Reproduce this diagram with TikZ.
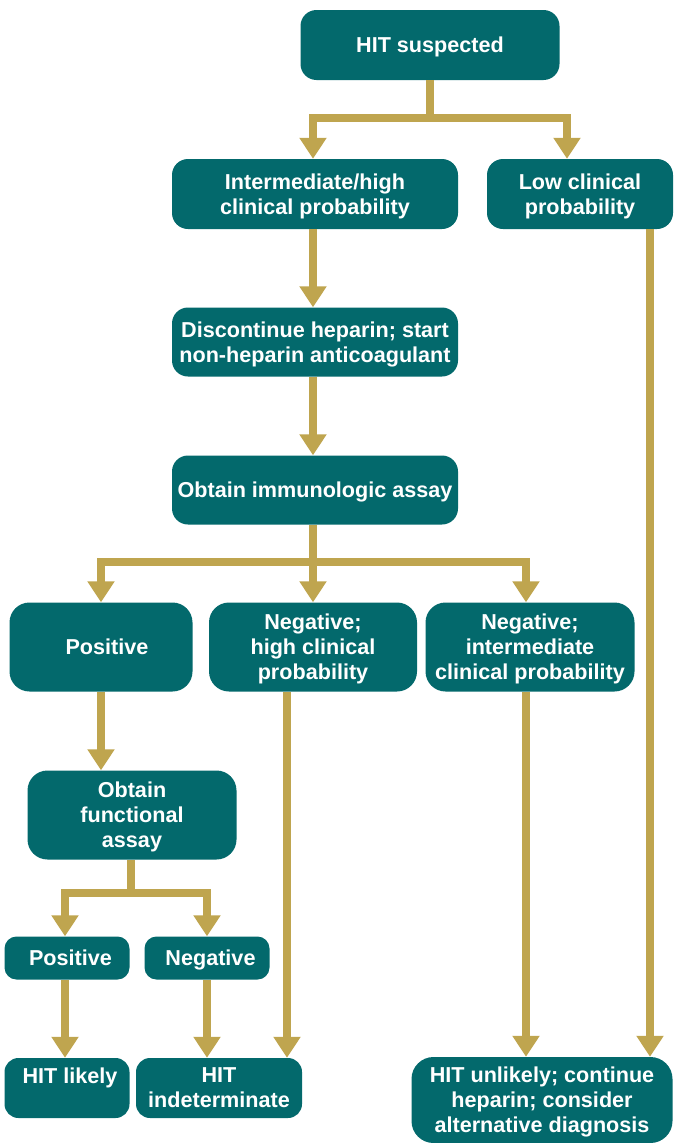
\documentclass[tikz,border=0pt]{standalone}
\usepackage{fontspec}
\setmainfont{Liberation Sans}
\usetikzlibrary{arrows.meta}
\definecolor{boxteal}{HTML}{03696C}
\definecolor{gold}{HTML}{BFA54F}
\begin{document}
\begin{tikzpicture}[x=1pt,y=-1pt,
  box/.style={fill=boxteal, rounded corners=16pt, text=white,
    font=\bfseries\fontsize{21.6}{25}\selectfont, align=center, inner sep=0pt, text depth=0pt},
  arr/.style={draw=gold, line width=8pt, -{Triangle[width=26pt,length=21pt]}},
  ln/.style={draw=gold, line width=8pt}]
\useasboundingbox (0,0) rectangle (674,1143);
\node[box, minimum width=259pt, minimum height=70pt] (top) at (430,45) {HIT suspected};
\node[box, minimum width=286pt, minimum height=70pt] (int) at (315,194) {Intermediate/high\\clinical probability};
\node[box, minimum width=186pt, minimum height=70pt] (low) at (580,194) {Low clinical\\probability};
\node[box, minimum width=286pt, minimum height=69pt] (disc) at (315,342) {Discontinue heparin; start\\non-heparin anticoagulant};
\node[box, minimum width=286pt, minimum height=69pt] (immuno) at (315,490) {Obtain immunologic assay};
\node[box, minimum width=183pt, minimum height=89pt, rounded corners=20pt] (pos) at (101,647) {\hspace*{12pt}Positive};
\node[box, minimum width=208pt, minimum height=89pt, rounded corners=20pt] (neghigh) at (313,647) {Negative;\\high clinical\\probability};
\node[box, minimum width=209pt, minimum height=89pt, rounded corners=20pt] (neginter) at (530,647) {Negative;\\intermediate\\clinical probability};
\node[box, minimum width=209pt, minimum height=89pt, rounded corners=20pt] (func) at (132,815) {Obtain\\functional\\assay};
\node[box, minimum width=125pt, minimum height=43pt, rounded corners=12pt] (spos) at (67,958) {\hspace*{7pt}Positive};
\node[box, minimum width=125pt, minimum height=43pt, rounded corners=12pt] (sneg) at (207,958) {\hspace*{7pt}Negative};
\node[box, minimum width=125pt, minimum height=60pt, rounded corners=14pt] (likely) at (67,1088) {\hspace*{6pt}HIT likely\\~};
\node[box, minimum width=166pt, minimum height=60pt, rounded corners=14pt] (indet) at (219,1088) {HIT\\indeterminate};
\node[box, minimum width=261pt, minimum height=86pt, rounded corners=22pt] (unlikely) at (542,1100) {HIT unlikely; continue\\heparin; consider\\alternative diagnosis};
% connectors
\coordinate (j1) at (430,118);
\draw[ln] (top.south) -- (j1);
\draw[arr] (j1) -| ([xshift=-2pt]int.north);
\draw[arr] (j1) -| ([xshift=-13pt]low.north);
\draw[arr] ([xshift=-2pt]int.south) -- ([xshift=-2pt]disc.north);
\draw[arr] ([xshift=-2pt]disc.south) -- ([xshift=-2pt]immuno.north);
\coordinate (j2) at (313,562);
\draw[ln] ([xshift=-2pt]immuno.south) -- (j2);
\draw[arr] (j2) -| (pos.north);
\draw[arr] (j2) -- (neghigh.north);
\draw[arr] (j2) -| ([xshift=-4pt]neginter.north);
\draw[arr] (pos.south) -- (pos.south |- func.north);
\coordinate (j3) at (131,893);
\draw[ln] ([xshift=-1pt]func.south) -- (j3);
\draw[arr] (j3) -| ([xshift=-2pt]spos.north);
\draw[arr] (j3) -| (sneg.north);
\draw[arr] ([xshift=-2pt]spos.south) -- ([xshift=-2pt]likely.north);
\draw[arr] (sneg.south) -- (sneg.south |- indet.north);
\coordinate (xa) at (287,0);
\draw[arr] (neghigh.south -| xa) -- (indet.north -| xa);
\draw[arr] ([xshift=-4pt]neginter.south) -- ([xshift=-4pt]neginter.south |- unlikely.north);
\coordinate (xb) at (650,0);
\draw[arr] (low.south -| xb) -- (unlikely.north -| xb);
\end{tikzpicture}
\end{document}
